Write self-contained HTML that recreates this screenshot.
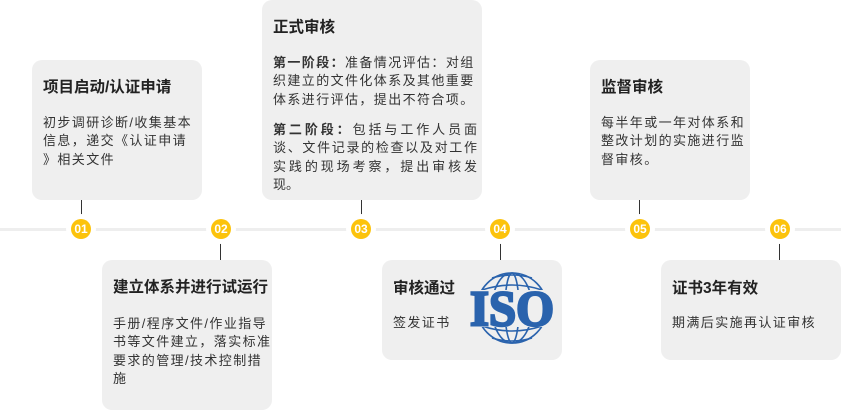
<!DOCTYPE html>
<html><head><meta charset="utf-8"><style>
body{margin:0;width:841px;height:410px;background:#fff;position:relative;overflow:hidden;font-family:"Liberation Sans","Noto Sans CJK SC",sans-serif;color:#333}
.box{position:absolute;background:#efefef;border-radius:10px}
.t{position:absolute;left:11px;font-size:15.5px;font-weight:bold;color:#222;white-space:nowrap;line-height:20px}
.b{position:absolute;left:11px;font-size:13px;line-height:18.3px;color:#333;white-space:nowrap;letter-spacing:1.4px}
.j div{text-align:justify;text-align-last:justify;letter-spacing:0}
.c{position:absolute;width:20px;height:20px;border-radius:50%;background:#fcc30c;color:#fff;font-weight:bold;font-size:12px;text-align:center;line-height:20px;top:219px;box-shadow:0 0 0 5px #fff}
.v{position:absolute;width:1px;background:#333}
</style></head><body>
<div style="position:absolute;left:0;right:0;top:228px;height:3px;background:#eeeeee"></div>

<div class="v" style="left:81px;top:200px;height:20px"></div>
<div class="v" style="left:220px;top:238px;height:22px"></div>
<div class="v" style="left:361px;top:200px;height:20px"></div>
<div class="v" style="left:500px;top:238px;height:22px"></div>
<div class="v" style="left:639px;top:200px;height:20px"></div>
<div class="v" style="left:779px;top:238px;height:22px"></div>

<div class="c" style="left:71px">01</div>
<div class="c" style="left:211px">02</div>
<div class="c" style="left:351px">03</div>
<div class="c" style="left:490px">04</div>
<div class="c" style="left:630px">05</div>
<div class="c" style="left:770px">06</div>

<div class="box" style="left:32px;top:60px;width:170px;height:140px">
<div class="t" style="top:18px">项目启动/认证申请</div>
<div class="b" style="top:54px">初步调研诊断/收集基本<br>信息，递交《认证申请<br>》相关文件</div>
</div>

<div class="box" style="left:262px;top:0;width:220px;height:200px">
<div class="t" style="top:18px">正式审核</div>
<div class="b" style="top:54px"><b>第一阶段：</b>准备情况评估：对组<br>织建立的文件化体系及其他重要<br>体系进行评估，提出不符合项。</div>
<div class="b j" style="top:121px;width:204px;white-space:normal">
<div><b>第二阶段：</b>包括与工作人员面</div>
<div>谈、文件记录的检查以及对工作</div>
<div>实践的现场考察，提出审核发</div>
<div style="text-align-last:left">现。</div>
</div>
</div>

<div class="box" style="left:590px;top:60px;width:160px;height:140px">
<div class="t" style="top:18px">监督审核</div>
<div class="b" style="top:54px">每半年或一年对体系和<br>整改计划的实施进行监<br>督审核。</div>
</div>

<div class="box" style="left:102px;top:260px;width:170px;height:150px">
<div class="t" style="top:18px">建立体系并进行试运行</div>
<div class="b" style="top:55px">手册/程序文件/作业指导<br>书等文件建立，落实标准<br>要求的管理/技术控制措<br>施</div>
</div>

<div class="box" style="left:382px;top:260px;width:180px;height:100px">
<div class="t" style="top:19px">审核通过</div>
<div class="b" style="top:54px">签发证书</div>
<svg style="position:absolute;left:84px;top:10px" width="90" height="80" viewBox="0 0 90 80">
<g fill="none" stroke="#2a63ad" stroke-width="1.6">
<circle cx="46" cy="38" r="35"/>
<ellipse cx="46" cy="38" rx="20" ry="35"/>
<ellipse cx="46" cy="38" rx="7" ry="35"/>
<path d="M16 20 Q46 10 76 20 M26 8 Q46 2 66 8 M16 56 Q46 66 76 56 M26 68 Q46 74 66 68"/>
</g>
<rect x="1" y="20" width="89" height="37" fill="#efefef"/>
<text x="46" y="55" text-anchor="middle" font-family="Liberation Serif,serif" font-weight="bold" font-size="50" fill="#2a63ad" stroke="#2a63ad" stroke-width="2.5" textLength="84" lengthAdjust="spacingAndGlyphs">ISO</text>
</svg>
</div>

<div class="box" style="left:661px;top:260px;width:180px;height:100px">
<div class="t" style="top:19px">证书3年有效</div>
<div class="b" style="top:54px">期满后实施再认证审核</div>
</div>
</body></html>
